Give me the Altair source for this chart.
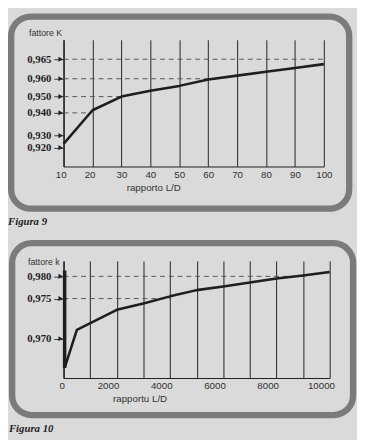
import altair as alt
import pandas as pd

# ---------------- Figura 9 ----------------
ld9 = [10, 20, 30, 40, 50, 60, 70, 80, 90, 100]
k9 = [0.9232, 0.9416, 0.950, 0.9533, 0.9560, 0.9596, 0.9608, 0.9618, 0.96275, 0.96375]
ticks9 = [0.920, 0.930, 0.940, 0.950, 0.960, 0.965]
dash9_level = [0.965, 0.960, 0.950, 0.940]
dash9_start = [10, 10, 10, 10]
dash9_end = [100, 60, 30, 20]
grid9 = [10, 20, 30, 40, 50, 60, 70, 80, 90, 100]

# ---------------- Figura 10 ----------------
ld10 = [40, 500, 2000, 3000, 4000, 5000, 6000, 7000, 8000, 9000, 10000]
k10 = [0.96636, 0.9711, 0.9736, 0.9744, 0.9755, 0.9769, 0.9777, 0.9786, 0.9795, 0.9802, 0.9810]
bar10_x = [40]
bar10_top = [0.9813]
bar10_bottom = [0.96636]
ticks10 = [0.970, 0.975, 0.980]
dash10_level = [0.980, 0.975]
dash10_start = [0, 0]
dash10_end = [9000, 4000]
grid10 = [0, 1000, 2000, 3000, 4000, 5000, 6000, 7000, 8000, 9000, 10000]

INK = "#1e1e1e"
FRAME = "#7b7b7b"
one = pd.DataFrame({"o": [0]})
label_expr = "replace(format(datum.value, '.3f'), '.', ',')"


def yaxis(vals, title, tx, ty):
    return alt.Axis(values=vals, labelExpr=label_expr, labelFont="Liberation Serif",
                    labelFontWeight="bold", labelFontSize=11, labelColor="#222",
                    tickSize=10, tickColor="#333", tickWidth=1, labelPadding=3,
                    labelFlush=False,
                    domainColor="#222", domainWidth=1.4, grid=False,
                    title=title, titleAngle=0, titleX=tx, titleY=ty, titleAlign="left",
                    titleBaseline="middle", titleFont="Liberation Sans", titleFontSize=9,
                    titleFontWeight="normal", titleColor="#333")


def build(ld, k, ticks, dl, ds, de, xs, ys, w, h, xaxis, yax, frame, cap, capy, bar=None):
    cdf = pd.DataFrame({"ld": ld, "k": k})
    tdf = pd.DataFrame({"t": ticks})
    ddf = pd.DataFrame({"level": dl, "start": ds, "end": de})

    frame_l = alt.Chart(one).mark_rect(fillOpacity=0, stroke=FRAME, strokeWidth=6.5,
                                       cornerRadius=20).encode(
        x=alt.value(frame[0]), x2=alt.value(frame[1]),
        y=alt.value(frame[2]), y2=alt.value(frame[3]))
    dash_l = alt.Chart(ddf).mark_rule(color="#555", strokeDash=[5, 4], strokeWidth=1).encode(
        x=alt.X("start:Q", scale=xs, axis=xaxis), x2="end:Q",
        y=alt.Y("level:Q", scale=ys, axis=yax))
    curve_l = alt.Chart(cdf).mark_line(color=INK, strokeWidth=2.6, strokeJoin="round").encode(
        x=alt.X("ld:Q", scale=xs, axis=xaxis),
        y=alt.Y("k:Q", scale=ys, axis=yax))
    arrow_l = alt.Chart(tdf).mark_point(shape="triangle-right", filled=True, size=28,
                                        color="#222", opacity=1).encode(
        x=alt.value(-3), y=alt.Y("t:Q", scale=ys, axis=yax))
    cap_l = alt.Chart(one).mark_text(text=cap, font="Liberation Serif", fontStyle="italic",
                                     fontWeight="bold", fontSize=11, align="left",
                                     baseline="middle", color="#222").encode(
        x=alt.value(frame[0] - 3.25), y=alt.value(capy))
    layers = [frame_l, dash_l]
    if bar is not None:
        bdf = pd.DataFrame({"bx": bar[0], "top": bar[1], "bot": bar[2]})
        layers.append(alt.Chart(bdf).mark_rule(color=INK, strokeWidth=3.6).encode(
            x=alt.X("bx:Q", scale=xs, axis=xaxis),
            y=alt.Y("top:Q", scale=ys, axis=yax), y2="bot:Q"))
    layers += [curve_l, arrow_l, cap_l]
    return alt.layer(*layers).properties(width=w, height=h)


xs9 = alt.Scale(domain=[10, 100], zero=False, nice=False)
ys9 = alt.Scale(domain=[0.9044, 0.92, 0.93, 0.94, 0.95, 0.96, 0.965, 0.970],
                range=[130, 110.7, 98.3, 75, 58.3, 40, 20, 0], zero=False, nice=False)
xax9 = alt.Axis(values=grid9, format="d", ticks=False, labelPadding=3, labelFlush=False,
                labelOffset={"condition": {"test": "datum.value <= 20", "value": -3}, "value": 0},
                labelFont="Liberation Sans", labelFontSize=10, labelColor="#333",
                domainColor="#222", domainWidth=1.2, grid=True, gridColor="#333",
                gridWidth=1.1, gridOpacity=1, title="rapporto L/D", titleX=92, titleY=22,
                titleAlign="center", titleBaseline="middle", titleFontSize=10,
                titleFontWeight="normal", titleFont="Liberation Sans", titleColor="#333")
fig9 = build(ld9, k9, ticks9, dash9_level, dash9_start, dash9_end, xs9, ys9, 267, 130,
             xax9, yaxis(ticks9, "fattore K", -36, -7),
             [-53.75, 293, -23.75, 173.3], "Figura 9", 186.7)

xs10 = alt.Scale(domain=[0, 10000], zero=False, nice=False)
ys10 = alt.Scale(domain=[0.96511, 0.970, 0.975, 0.980, 0.98344],
                 range=[120, 79.7, 38.5, 15.7, 0], zero=False, nice=False)
xax10 = alt.Axis(values=grid10, format="d", ticks=False, labelPadding=3, labelFlush=False,
                 labelExpr="datum.value % 2000 === 0 ? datum.label : ''",
                 labelOffset={"condition": {"test": "datum.value == 0", "value": -2}, "value": -9},
                 labelFont="Liberation Sans", labelFontSize=10, labelColor="#333",
                 domainColor="#222", domainWidth=1.2, grid=True, gridColor="#333",
                 gridWidth=1.1, gridOpacity=1, title="rapportu L/D", titleX=78, titleY=21,
                 titleAlign="center", titleBaseline="middle", titleFontSize=10,
                 titleFontWeight="normal", titleFont="Liberation Sans", titleColor="#333")
fig10 = build(ld10, k10, ticks10, dash10_level, dash10_start, dash10_end, xs10, ys10,
              273, 120, xax10, yaxis(ticks10, "fattore k", -37, 1),
              [-52.75, 297, -18.3, 158], "Figura 10", 172.3,
              bar=(bar10_x, bar10_top, bar10_bottom))

chart = alt.vconcat(fig9, fig10, spacing=13).properties(
    padding=0, background="#dadada"
).configure_view(stroke=None)

chart.save("out.html", embed_options={"renderer": "svg", "actions": False})
